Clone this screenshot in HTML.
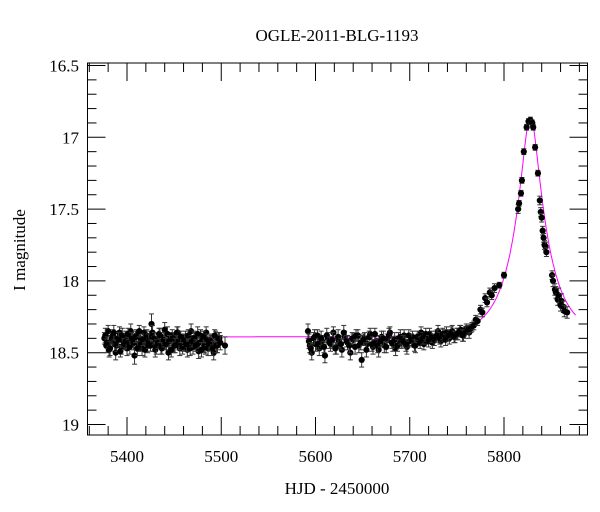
<!DOCTYPE html>
<html><head><meta charset="utf-8"><style>
html,body{margin:0;padding:0;background:#fff}
svg{display:block}
text{font-family:"Liberation Serif",serif;fill:#000}
</style></head><body>
<svg id="chart" width="600" height="512" viewBox="0 0 600 512" xmlns="http://www.w3.org/2000/svg">
<text x="337" y="41" font-size="17" text-anchor="middle">OGLE-2011-BLG-1193</text>
<text x="0" y="0" font-size="17" text-anchor="middle" transform="translate(25,250) rotate(-90)">I magnitude</text>
<text x="337" y="494" font-size="17" text-anchor="middle">HJD - 2450000</text>
<g id="grid"></g>
<g id="model"></g>
<g id="pts"></g>
<rect x="87.5" y="63" width="500" height="372" fill="none" stroke="#000" stroke-width="1"/>
</svg>
<script>
const times=[5376,5378,5380,5381,5383,5385,5387,5388,5390,5392,5394,5396,5398,5400,5402,5404,5406,5408,5410,5412,5414,5416,5418,5420,5422,5424,5426,5428,5430,5432,5434,5436,5438,5440,5442,5444,5446,5448,5450,5452,5454,5456,5458,5460,5462,5464,5466,5468,5470,5472,5474,5476,5478,5480,5482,5484,5486,5488,5490,5492,5494,5496,5498,5504,
5377,5379,5382,5384,5386,5389,5391,5393,5395,5397,5399,5401,5403,5405,5407,5409,5411,5413,5415,5417,5419,5421,5423,5425,5427,5429,5431,5433,5435,5437,5439,5441,5443,5445,5447,5449,5451,5453,5455,5457,5459,5461,5463,5465,5467,5469,5471,5473,5475,5477,5479,5481,5483,5485,5487,5489,5491,5493,5495,5497,5499,
5592,5594,5596,5598,5600,5602,5604,5607,5610,5613,5616,5619,5622,5625,5628,5631,5634,5637,5640,5643,5646,5649,5652,5655,5658,5661,5664,5667,5670,5673,5676,5679,5682,5685,5688,5691,5694,5697,5700,5703,5706,5709,5712,5715,5718,5721,5724,5727,5730,5733,5736,5739,5742,5745,5748,5751,5754,5757,5760,5763,5766,5770,5775,5780,5785,5790,5795,5800,
5593,5595,5599,5603,5606,5609,5612,5615,5618,5621,5624,5627,5630,5633,5636,5639,5642,5645,5648,5651,5654,5657,5660,5663,5666,5669,5672,5675,5678,5681,5684,5687,5690,5693,5696,5699,5702,5705,5708,5711,5714,5717,5720,5723,5726,5729,5732,5735,5738,5741,5744,5747,5750,5753,5756,5759,5762,5765,5768,5772,5777,5782,5787,
5815,5816,5818,5819,5821,5824,5826,5828,5830,5831,5833,5836,5838,5839,5840,5841,5842,5843,5844,5845,5851,5852,5854,5855,5857,5858,5860,5861,5863,5864,5867];
const mags=[18.40,18.45,18.35,18.48,18.42,18.38,18.44,18.50,18.40,18.36,18.46,18.42,18.39,18.47,18.43,18.35,18.41,18.52,18.38,18.44,18.40,18.47,18.36,18.43,18.45,18.39,18.30,18.44,18.48,18.41,18.37,18.46,18.42,18.34,18.44,18.50,18.40,18.38,18.45,18.42,18.36,18.47,18.41,18.44,18.39,18.48,18.43,18.35,18.46,18.40,18.44,18.49,18.38,18.42,18.45,18.36,18.47,18.41,18.43,18.50,18.39,18.45,18.40,18.45,
18.38,18.43,18.47,18.40,18.36,18.45,18.41,18.49,18.38,18.44,18.42,18.37,18.46,18.40,18.43,18.39,18.47,18.35,18.44,18.41,18.48,18.38,18.42,18.45,18.36,18.40,18.46,18.43,18.38,18.47,18.41,18.44,18.37,18.42,18.48,18.40,18.45,18.36,18.43,18.39,18.46,18.41,18.44,18.38,18.47,18.42,18.40,18.45,18.37,18.43,18.48,18.39,18.46,18.41,18.44,18.42,18.47,18.38,18.45,18.40,18.43,
18.35,18.45,18.50,18.40,18.44,18.38,18.47,18.42,18.52,18.40,18.44,18.36,18.46,18.42,18.48,18.39,18.43,18.50,18.41,18.38,18.45,18.55,18.40,18.44,18.37,18.46,18.42,18.48,18.39,18.45,18.41,18.36,18.44,18.47,18.40,18.43,18.38,18.46,18.42,18.39,18.45,18.41,18.36,18.44,18.40,18.37,18.43,18.39,18.35,18.42,18.38,18.36,18.40,18.35,18.39,18.37,18.34,18.38,18.33,18.36,18.32,18.27,18.20,18.12,18.08,18.05,18.03,17.96,
18.42,18.47,18.39,18.44,18.40,18.46,18.38,18.43,18.41,18.47,18.39,18.44,18.36,18.42,18.45,18.40,18.46,18.38,18.43,18.41,18.48,18.39,18.44,18.37,18.45,18.42,18.40,18.46,18.38,18.43,18.41,18.45,18.39,18.42,18.44,18.38,18.41,18.45,18.39,18.43,18.40,18.37,18.42,18.39,18.41,18.38,18.40,18.37,18.41,18.38,18.36,18.39,18.37,18.35,18.38,18.36,18.34,18.33,18.31,18.28,18.22,18.15,18.10,
17.50,17.46,17.39,17.30,17.10,16.93,16.89,16.88,16.90,16.93,17.07,17.25,17.44,17.52,17.56,17.65,17.70,17.75,17.76,17.80,17.96,18.00,18.06,18.08,18.13,18.10,18.17,18.14,18.18,18.21,18.22];
const errs=[0.04,0.05,0.04,0.05,0.04,0.04,0.05,0.05,0.04,0.04,0.05,0.04,0.04,0.05,0.04,0.05,0.04,0.06,0.04,0.05,0.04,0.05,0.04,0.04,0.05,0.04,0.07,0.05,0.05,0.04,0.04,0.05,0.04,0.05,0.04,0.05,0.04,0.04,0.05,0.04,0.04,0.05,0.04,0.05,0.04,0.05,0.04,0.05,0.05,0.04,0.04,0.05,0.04,0.04,0.05,0.04,0.05,0.04,0.04,0.05,0.04,0.05,0.04,0.06,
0.05,0.04,0.05,0.04,0.05,0.04,0.05,0.04,0.05,0.04,0.05,0.04,0.05,0.04,0.05,0.04,0.05,0.04,0.05,0.04,0.05,0.04,0.05,0.04,0.05,0.04,0.05,0.04,0.05,0.04,0.05,0.04,0.05,0.04,0.05,0.04,0.05,0.04,0.05,0.04,0.05,0.04,0.05,0.04,0.05,0.04,0.05,0.04,0.05,0.04,0.05,0.04,0.05,0.04,0.05,0.04,0.05,0.04,0.05,0.04,0.05,
0.05,0.05,0.05,0.04,0.05,0.04,0.05,0.04,0.05,0.04,0.05,0.04,0.05,0.04,0.05,0.04,0.05,0.05,0.04,0.04,0.05,0.05,0.04,0.05,0.04,0.05,0.04,0.05,0.04,0.05,0.04,0.04,0.05,0.05,0.04,0.04,0.04,0.05,0.04,0.04,0.05,0.04,0.04,0.04,0.04,0.04,0.04,0.04,0.04,0.04,0.04,0.04,0.04,0.04,0.04,0.04,0.03,0.04,0.03,0.04,0.03,0.03,0.03,0.03,0.03,0.03,0.02,0.02,
0.05,0.04,0.05,0.04,0.05,0.04,0.05,0.04,0.05,0.04,0.05,0.04,0.05,0.04,0.05,0.04,0.05,0.04,0.05,0.04,0.05,0.04,0.05,0.04,0.05,0.04,0.05,0.04,0.05,0.04,0.05,0.04,0.05,0.04,0.05,0.04,0.04,0.04,0.04,0.04,0.04,0.04,0.04,0.04,0.04,0.04,0.04,0.04,0.04,0.04,0.04,0.04,0.04,0.04,0.04,0.04,0.03,0.03,0.03,0.03,0.03,0.03,0.03,
0.03,0.02,0.02,0.02,0.02,0.02,0.02,0.02,0.02,0.02,0.02,0.02,0.03,0.03,0.03,0.03,0.03,0.03,0.03,0.03,0.03,0.04,0.04,0.04,0.04,0.05,0.04,0.05,0.04,0.04,0.04];
const xTicks=[5400,5500,5600,5700,5800];
const yTicks=[16.5,17,17.5,18,18.5,19];
const xTickLabels=["5400","5500","5600","5700","5800"];
const yTickLabels=["16.5","17","17.5","18","18.5","19"];
const modelParams=[5828,34,0.25,18.39]; // t0, tE, u0, baseline mag

const NS="http://www.w3.org/2000/svg";
const X0=87.5,X1=587.5,Y0=63,Y1=435;
function xs(t){return 127+(t-5400)*0.9425;}
function ys(m){return 65.5+(m-16.5)*143.6;}
function mk(tag,attrs,parent){const e=document.createElementNS(NS,tag);for(const k in attrs)e.setAttribute(k,attrs[k]);parent.appendChild(e);return e;}
const grid=document.getElementById('grid');
for(let t=5360;t<=5880;t+=20){
  const x=xs(t);if(x<X0||x>X1)continue;
  const major=(t%100===0),L=major?18:9;
  const a=mk('line',{x1:x,x2:x,y1:Y1,y2:Y1-L,stroke:'#000','stroke-width':1},grid);
  
  const b=mk('line',{x1:x,x2:x,y1:Y0,y2:Y0+L,stroke:'#000','stroke-width':1},grid);
  
}
xTicks.forEach((t,i)=>{const e=mk('text',{x:xs(t),y:462,'font-size':17,'text-anchor':'middle'},grid);e.textContent=xTickLabels[i];
});
for(let k=165;k<=190;k++){
  const m=k/10,y=ys(m);if(y<Y0||y>Y1)continue;
  const major=(k%5===0),L=major?18:9;
  const a=mk('line',{x1:X0,x2:X0+L,y1:y,y2:y,stroke:'#000','stroke-width':1},grid);
  
  const b=mk('line',{x1:X1,x2:X1-L,y1:y,y2:y,stroke:'#000','stroke-width':1},grid);
  
}
yTicks.forEach((m,i)=>{const e=mk('text',{x:79,y:ys(m)+6,'font-size':17,'text-anchor':'end'},grid);e.textContent=yTickLabels[i];
});
const [t0,tE,u0,mb]=modelParams;
let d="";
for(let t=5375;t<=5876;t+=1){const tau=(t-t0)/tE,u=Math.sqrt(u0*u0+tau*tau);const A=(u*u+2)/(u*Math.sqrt(u*u+4));const m=mb-2.5*Math.log10(A);d+=(d?"L":"M")+xs(t).toFixed(1)+","+ys(m).toFixed(1);}
const path=mk('path',{d:d,fill:'none',stroke:'#ff00ff','stroke-width':1},document.getElementById('model'));

const pts=document.getElementById('pts');
times.forEach((t,i)=>{
  const x=xs(t),y=ys(mags[i]),e=errs[i]*143.6;
  const g=mk('g',{},pts);
  
  
  mk('line',{x1:x,x2:x,y1:y-e,y2:y+e,stroke:'#333','stroke-width':1},g);
  mk('line',{x1:x-2.5,x2:x+2.5,y1:y-e,y2:y-e,stroke:'#333','stroke-width':1},g);
  mk('line',{x1:x-2.5,x2:x+2.5,y1:y+e,y2:y+e,stroke:'#333','stroke-width':1},g);
  mk('circle',{cx:x,cy:y,r:3.1,fill:'#000'},g);
});
</script>
</body></html>
